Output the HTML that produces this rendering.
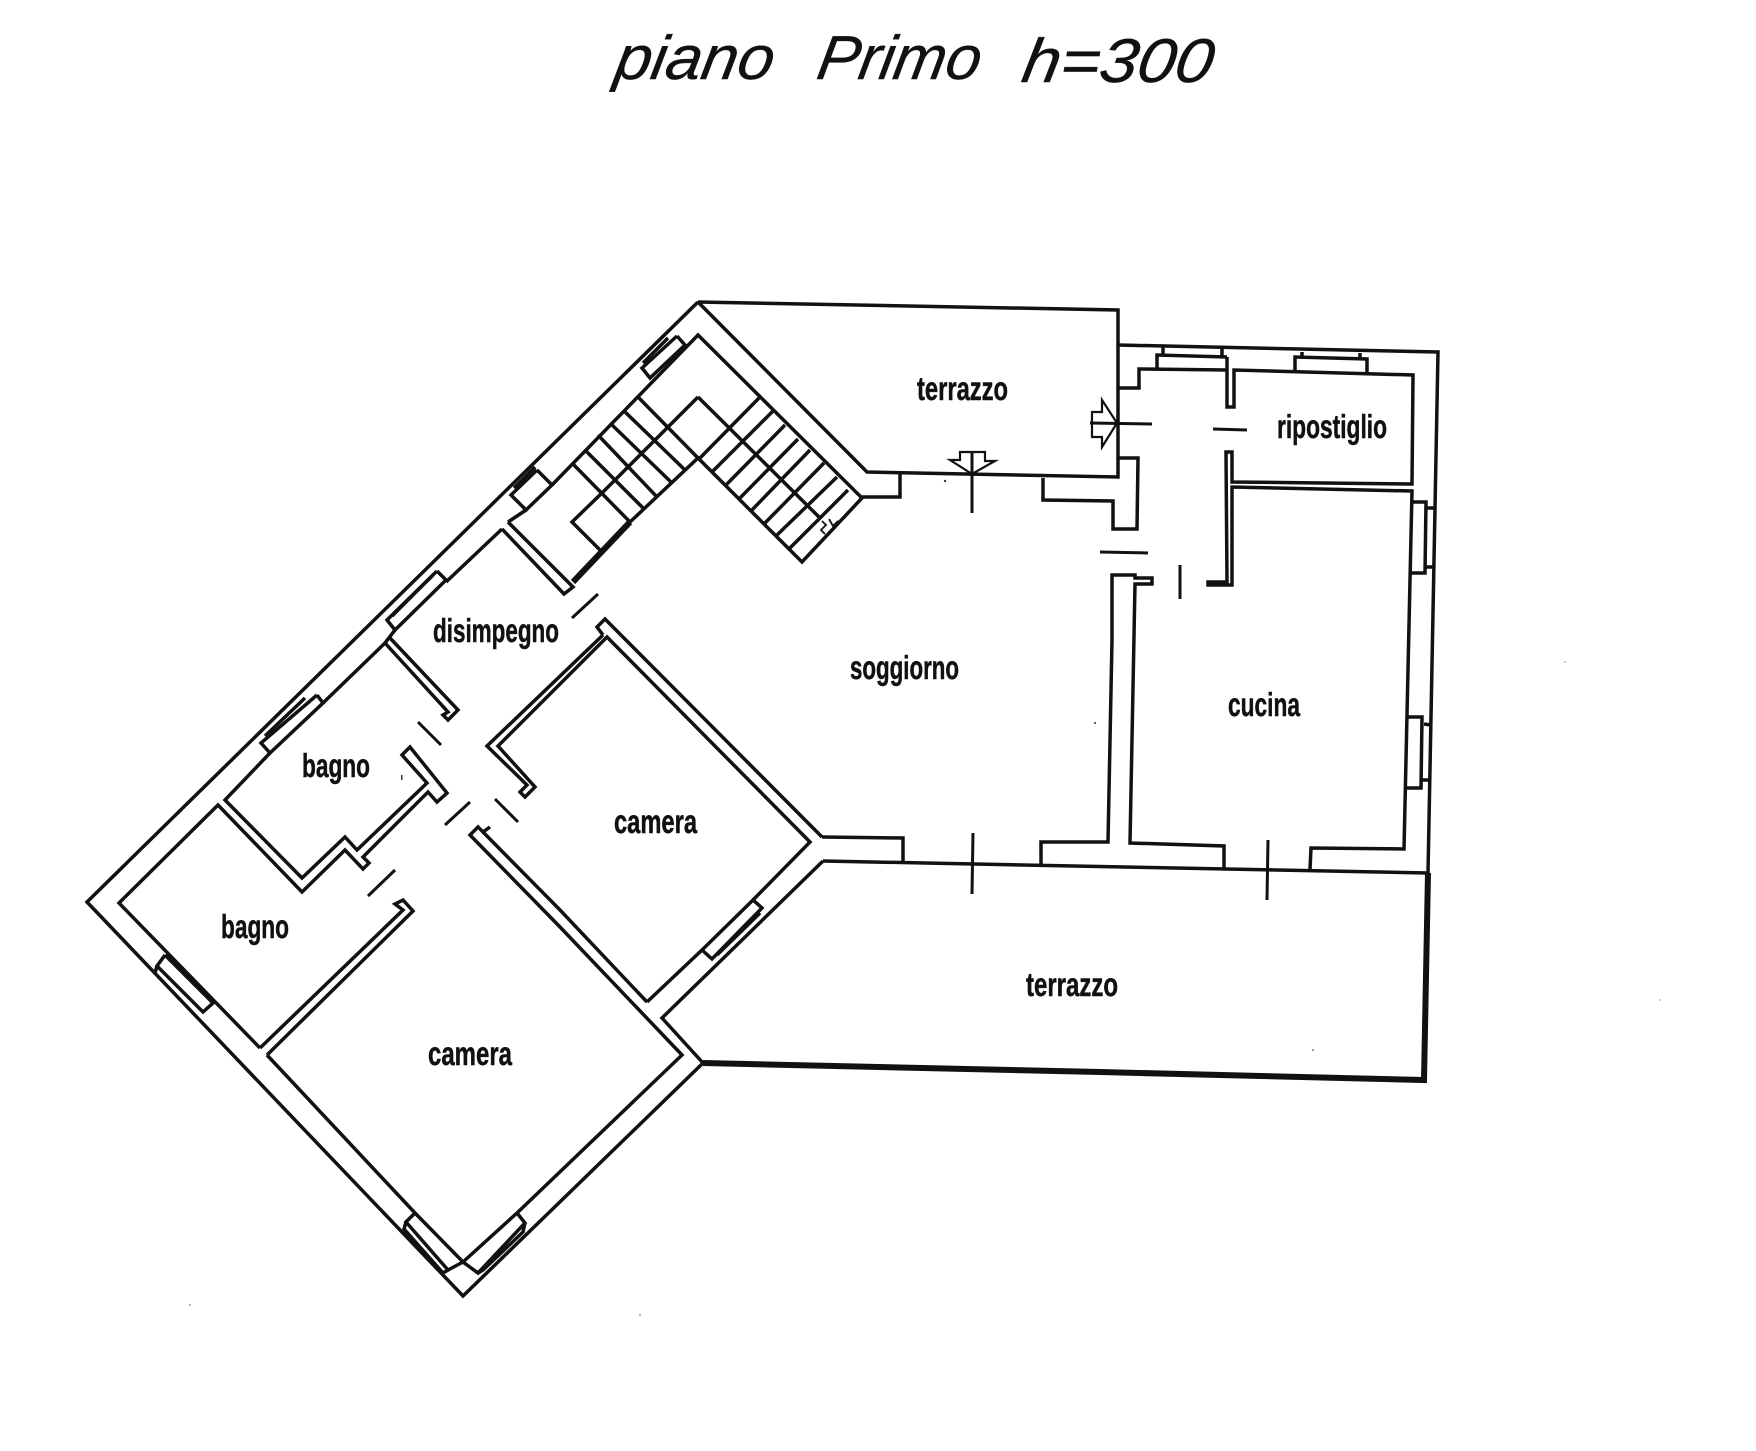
<!DOCTYPE html>
<html><head><meta charset="utf-8"><title>piano Primo</title>
<style>
html,body{margin:0;padding:0;background:#fff}
svg{display:block}
.w{fill:none;stroke:#111;stroke-width:3.5;stroke-linejoin:miter}
.t{fill:none;stroke:#111;stroke-width:3}
.k{fill:none;stroke:#111;stroke-width:6}
text.l{font-family:"Liberation Sans",sans-serif;font-weight:bold;font-size:33px;fill:#111;stroke:#111;stroke-width:.5}
text.h{font-family:"Liberation Sans",sans-serif;font-style:italic;font-size:62px;fill:#111;stroke:#111;stroke-width:.4}
</style></head><body>
<svg width="1756" height="1451" viewBox="0 0 1756 1451" xmlns="http://www.w3.org/2000/svg">
<rect width="1756" height="1451" fill="#fff"/>
<text class="h" transform="translate(613,79) skewX(-10)" x="0" y="0" textLength="158" lengthAdjust="spacingAndGlyphs">piano</text>
<text class="h" transform="translate(815,79) skewX(-10)" x="0" y="0" textLength="163" lengthAdjust="spacingAndGlyphs">Primo</text>
<text class="h" transform="translate(1020,82) skewX(-10)" x="0" y="0" textLength="190" lengthAdjust="spacingAndGlyphs">h=300</text>

<!-- outer NW wall, tip, SW wall -->
<polyline class="w" points="698,302 87,902 463,1296 703,1063"/>
<!-- upper terrace -->
<polyline class="w" points="698,302 1118,310 1118,477 867,472 698,302"/>
<!-- corridor inner / stairs -->
<polyline class="w" points="508,522 526,510"/>
<polyline class="w" points="552,485 698,335 862,498 802,562 698,458 630,522"/>
<polyline class="k" points="630,522 573,582"/>
<polyline class="w" points="508,522 573,587 564,594 502,529"/>
<polyline class="w" points="698,397 820,518"/>
<polyline class="w" points="698,397 603,492 572,522 600,550"/>
<g class="w">
<line x1="700" y1="458" x2="759" y2="398"/><line x1="712" y1="472" x2="773" y2="411"/>
<line x1="726" y1="485" x2="785" y2="425"/><line x1="739" y1="499" x2="798" y2="439"/>
<line x1="752" y1="510" x2="810" y2="450"/><line x1="764" y1="524" x2="824" y2="463"/>
<line x1="777" y1="535" x2="837" y2="477"/><line x1="790" y1="548" x2="848" y2="490"/>
<line x1="638" y1="397" x2="698" y2="458"/><line x1="623" y1="410" x2="685" y2="470"/>
<line x1="610" y1="423" x2="672" y2="483"/><line x1="598" y1="435" x2="657" y2="497"/>
<line x1="585" y1="450" x2="643" y2="508"/><line x1="572" y1="463" x2="630" y2="522"/>
</g>
<polyline class="t" style="stroke-width:1.8" points="822,521 826,525 821,530 825,534"/>
<polyline class="t" style="stroke-width:1.8" points="829,519 833,526 838,521 832,531 827,534"/>
<!-- apex window -->
<polyline class="w" points="677,336 685,345 650,378 642,368 677,336"/>
<line class="w" x1="643" y1="363" x2="668" y2="338"/>
<!-- stair-side window -->
<polyline class="w" points="537,470 552,485 526,510 511,495 537,470"/>
<line class="w" x1="514" y1="488" x2="535" y2="467"/>
<!-- disimpegno window -->
<polyline class="w" points="437,571 446,580 395,630 387,620 437,571"/>
<line class="w" x1="433" y1="575" x2="392" y2="616"/>
<polyline class="w" points="502,529 446,582"/>
<polyline class="w" points="395,630 385,643"/>
<!-- bagno window NW -->
<polyline class="w" points="323,703 385,643"/>
<polyline class="w" points="317,695 323,703 270,753 261,743 317,695"/>
<line class="w" x1="265" y1="736" x2="305" y2="698"/>
<polyline class="w" points="270,753 225,800 302,878 345,837 357,850 427,783 402,755 410,747 447,793 437,802 428,792 363,857 369,863 363,869 345,850 302,892 218,805 119,903 260,1048"/>
<polyline class="w" points="385,643 448,712 443,715 448,720 458,710 390,638"/>
<!-- lower-left window (bagno) -->
<polyline class="w" points="165,955 157,966 203,1012 213,1003 165,955"/>
<line class="w" x1="157" y1="966" x2="155" y2="973"/>
<!-- bagno lower east wall -->
<polyline class="w" points="260,1048 403,910 395,904 403,900 413,911 267,1055"/>
<!-- lower camera -->
<polyline class="w" points="267,1055 415,1213 463,1262 517,1213 682,1055 560,927 470,835 478,827 483,832 490,827"/>
<polyline class="w" points="483,832 560,910 647,1002"/>
<!-- lower camera windows -->
<polyline class="w" points="415,1213 406,1222 448,1270 463,1262"/>
<polyline class="w" points="406,1222 404,1229 443,1273 448,1270"/>
<polyline class="w" points="517,1213 525,1223 478,1273 463,1262"/>
<polyline class="w" points="525,1223 523,1232 483,1270 478,1273"/>
<!-- upper camera -->
<polyline class="w" points="603,635 597,627 605,619 822,837"/>
<polyline class="w" points="603,635 487,746 527,785 520,792 525,797 535,787 498,746 607,637 810,842 753,900"/>
<polyline class="w" points="647,1002 702,950 712,959 762,908 753,900 702,950"/>
<polyline class="w" points="717,955 760,913"/>
<polyline class="w" points="823,861 662,1018 703,1063"/>
<!-- soggiorno south walls -->
<polyline class="w" points="822,837 903,838 903,862"/>
<polyline class="w" points="823,861 1428,873"/>
<polyline class="k" points="703,1063 1100,1072 1424,1080 1428,873"/>
<polyline class="w" points="1041,865 1041,842 1108,842 1112,640 1112,575 1135,575 1135,578 1152,578 1152,584 1135,584 1130,843 1224,846 1224,868"/>
<polyline class="w" points="1310,869 1311,848 1404,849 1412,491 1232,487 1232,585 1208,585 1208,582 1227,582 1226,452 1232,452 1232,482 1412,484 1413,375 1234,370 1234,407 1227,407 1227,357"/>
<!-- NE rooms -->
<polyline class="w" points="1118,345 1438,352 1428,873"/>
<polyline class="w" points="1118,388 1139,388 1139,369 1227,370"/>
<line class="w" x1="1163" y1="347" x2="1163" y2="355"/>
<polyline class="w" points="1157,369 1157,355 1227,357"/>
<line class="w" x1="1222" y1="348" x2="1222" y2="357"/>
<polyline class="w" points="1295,372 1295,357 1367,359 1367,373"/>
<line class="w" x1="1302" y1="352" x2="1302" y2="357"/>
<line class="w" x1="1360" y1="353" x2="1360" y2="359"/>
<!-- T pier -->
<polyline class="w" points="1117,458 1138,458 1137,529 1113,529 1113,501 1043,500 1043,478"/>
<polyline class="w" points="862,497 900,497 900,474"/>
<!-- east windows -->
<polyline class="w" points="1412,502 1426,502 1425,573 1410,573"/>
<line class="w" x1="1427" y1="508" x2="1435" y2="508"/>
<line class="w" x1="1425" y1="567" x2="1434" y2="567"/>
<polyline class="w" points="1407,717 1422,717 1421,788 1407,788"/>
<line class="w" x1="1424" y1="724" x2="1431" y2="725"/>
<line class="w" x1="1422" y1="780" x2="1430" y2="780"/>
<!-- doors / ticks -->
<g class="t">
<line x1="972" y1="452" x2="972" y2="513"/>
<line x1="973" y1="833" x2="972" y2="894"/>
<line x1="1268" y1="840" x2="1267" y2="900"/>
<line x1="1090" y1="423" x2="1152" y2="424"/>
<line x1="1213" y1="429" x2="1247" y2="430"/>
<line x1="1100" y1="552" x2="1148" y2="553"/>
<line x1="1180" y1="565" x2="1180" y2="599"/>
<line x1="572" y1="618" x2="598" y2="594"/>
<line x1="418" y1="722" x2="441" y2="745"/>
<line x1="445" y1="825" x2="470" y2="802"/>
<line x1="495" y1="799" x2="518" y2="822"/>
<line x1="368" y1="896" x2="395" y2="870"/>
</g>
<!-- entry arrows -->
<polygon class="t" style="stroke-width:2.2" points="960,452 985,452 985,461 995,461 972,474 950,460 960,460"/>
<polygon class="t" style="stroke-width:2.2" points="1092,412 1102,412 1102,400 1117,423 1102,447 1102,437 1092,437"/>
<!-- labels -->
<text class="l" x="917" y="400" textLength="91" lengthAdjust="spacingAndGlyphs">terrazzo</text>
<text class="l" x="1277" y="438" textLength="110" lengthAdjust="spacingAndGlyphs">ripostiglio</text>
<text class="l" x="850" y="679" textLength="109" lengthAdjust="spacingAndGlyphs">soggiorno</text>
<text class="l" x="1228" y="716" textLength="72" lengthAdjust="spacingAndGlyphs">cucina</text>
<text class="l" x="433" y="642" textLength="126" lengthAdjust="spacingAndGlyphs">disimpegno</text>
<text class="l" x="302" y="777" textLength="68" lengthAdjust="spacingAndGlyphs">bagno</text>
<text class="l" x="221" y="938" textLength="68" lengthAdjust="spacingAndGlyphs">bagno</text>
<text class="l" x="614" y="833" textLength="83" lengthAdjust="spacingAndGlyphs">camera</text>
<text class="l" x="428" y="1065" textLength="84" lengthAdjust="spacingAndGlyphs">camera</text>
<text class="l" x="1026" y="996" textLength="92" lengthAdjust="spacingAndGlyphs">terrazzo</text>
<!-- specks -->
<circle cx="945" cy="481" r="1.2" fill="#333"/>
<circle cx="1095" cy="723" r="1" fill="#333"/>
<rect x="401" y="775" width="1.5" height="5" fill="#333"/>
<circle cx="1313" cy="1050" r="1" fill="#777"/>
<circle cx="190" cy="1305" r="1" fill="#999"/>
<circle cx="640" cy="1315" r="1" fill="#999"/>
<circle cx="1660" cy="1000" r="1" fill="#bbb"/>
<circle cx="1565" cy="662" r="1" fill="#bbb"/>
</svg>
</body></html>
